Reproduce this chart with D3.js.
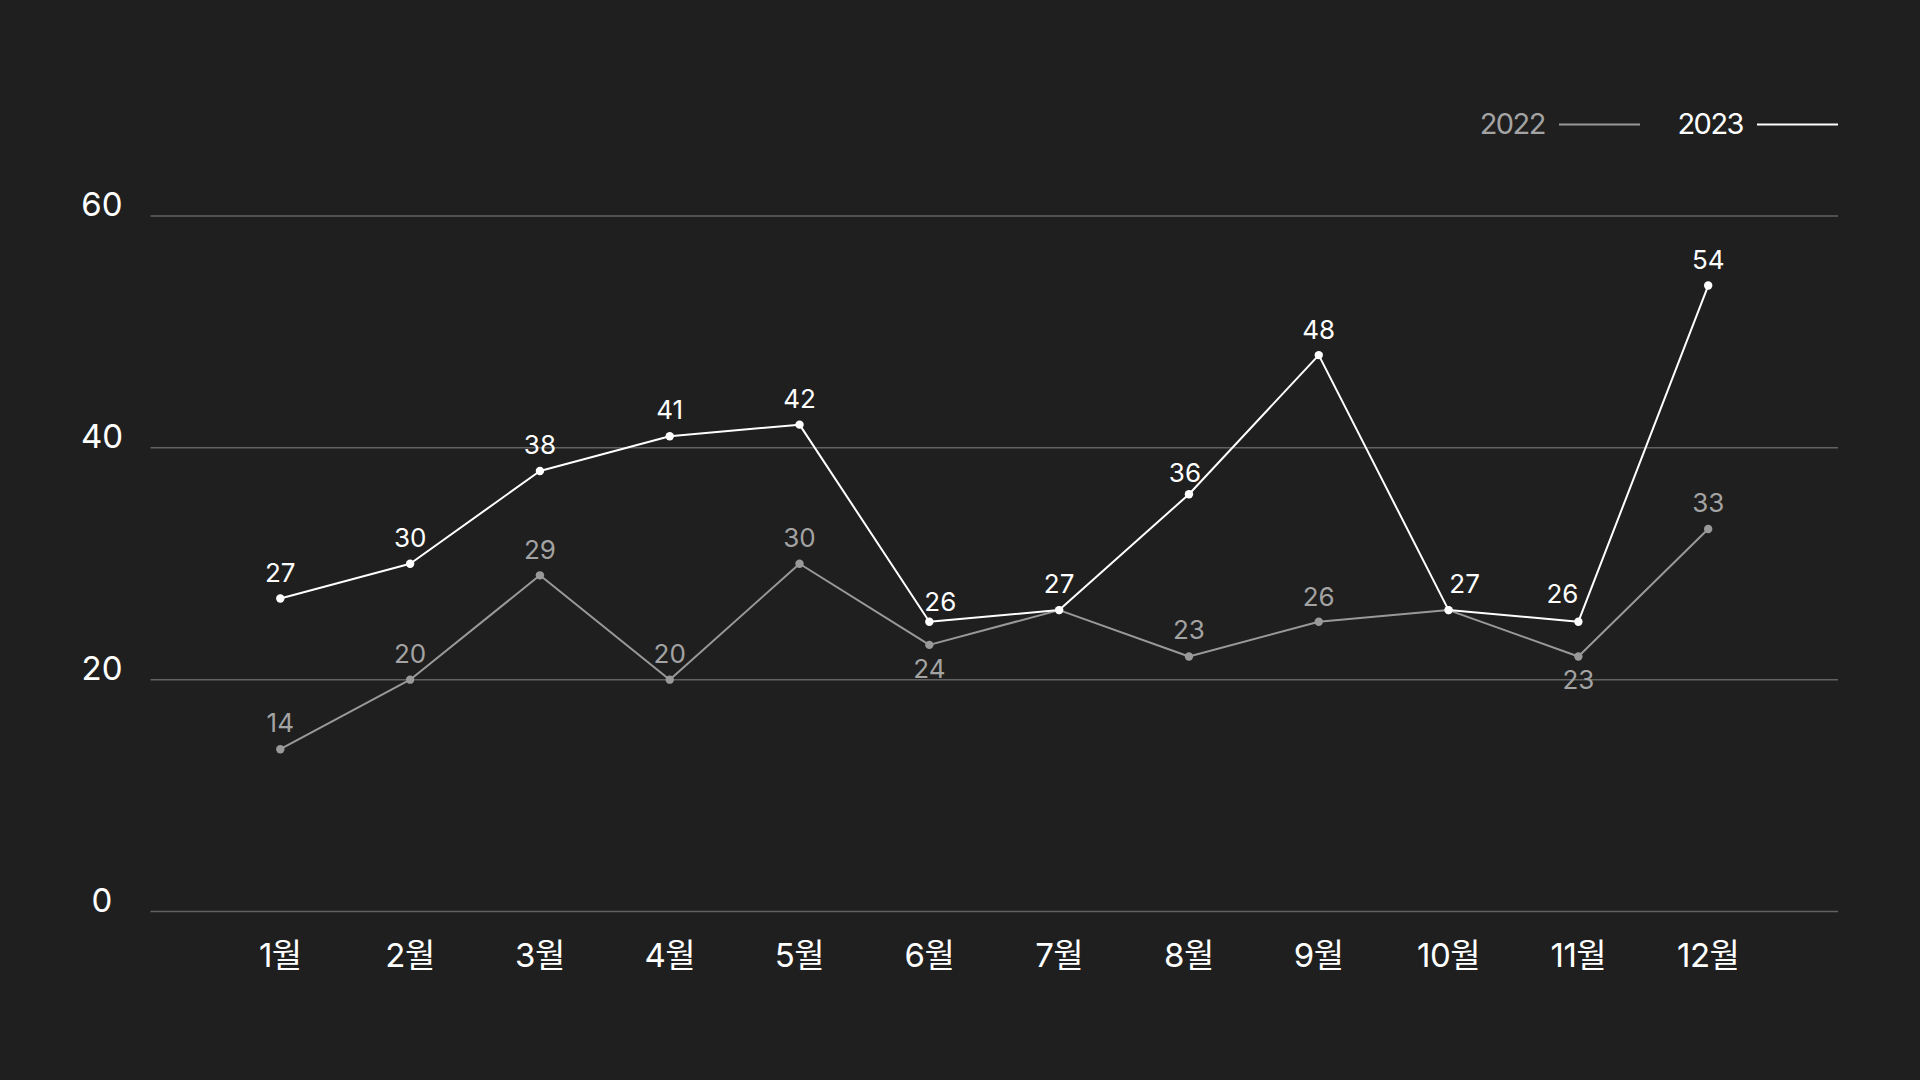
<!DOCTYPE html>
<html>
<head>
<meta charset="utf-8">
<script src="https://cdn.jsdelivr.net/npm/d3@7"></script>
<style>
  html, body { margin: 0; padding: 0; background: #1f1f1f; }
  svg { display: block; }
  text { font-family: Inter, "Noto Sans CJK KR", "Noto Sans", sans-serif; }
</style>
</head>
<body>
<svg id="chart" width="1920" height="1080"></svg>
<script>
// ---- data ----
const months = ["1월","2월","3월","4월","5월","6월","7월","8월","9월","10월","11월","12월"];
const yTicks = [0, 20, 40, 60];
const seriesNames = ["2022", "2023"];
const values2022 = [14, 20, 29, 20, 30, 23, 26, 22, 25, 26, 22, 33];
const values2023 = [27, 30, 38, 41, 42, 25, 26, 36, 48, 26, 25, 54];
const labels2022 = ["14","20","29","20","30","24",null,"23","26",null,"23","33"];
const labels2023 = ["27","30","38","41","42","26","27","36","48","27","26","54"];

// ---- label placement tweaks (styling, not data) ----
const nudgeX2023 = [0,0,0,0,0,11,0,-4,0,16,-16,0];
const nudgeY2023 = [-17,-17,-17,-17,-17,-11,-17,-12,-16,-17,-19,-17];
const nudgeY2022 = [-17,-17,-16,-17,-17,33,-17,-17,-16,-17,33,-17];

const W = 1920, H = 1080;
const svg = d3.select("#chart");
svg.append("rect").attr("width", W).attr("height", H).attr("fill", "#1f1f1f");

const x = d3.scalePoint().domain(months).range([150.5, 1838]).padding(1);
const y = d3.scaleLinear().domain([0, 60]).range([911.5, 216]);

// grid
const grid = svg.append("g");
grid.selectAll("line").data(yTicks).join("line")
  .attr("x1", 150.5).attr("x2", 1838)
  .attr("y1", d => y(d)).attr("y2", d => y(d))
  .attr("stroke", "#626262").attr("stroke-width", 1.5);

// y-axis labels
svg.append("g").selectAll("text").data(yTicks).join("text")
  .attr("x", 102).attr("y", d => y(d))
  .attr("text-anchor", "middle")
  .attr("fill", "#ffffff").attr("font-size", 33)
  .text(d => d);

// x-axis labels
svg.append("g").selectAll("text").data(months).join("text")
  .attr("x", d => x(d)).attr("y", 967)
  .attr("text-anchor", "middle")
  .attr("fill", "#ffffff").attr("font-size", 33)
  .attr("letter-spacing", -0.5)
  .text(d => d);

const line = d3.line().x((d, i) => x(months[i])).y(d => y(d));

function drawSeries(vals, labels, color, labelColor, nx, ny) {
  const g = svg.append("g");
  g.append("path").datum(vals)
    .attr("d", line).attr("fill", "none")
    .attr("stroke", color).attr("stroke-width", 2)
    .attr("stroke-linejoin", "round");
  g.selectAll("circle").data(vals).join("circle")
    .attr("cx", (d, i) => x(months[i])).attr("cy", d => y(d))
    .attr("r", 4.2).attr("fill", color);
  g.selectAll("text").data(vals).join("text")
    .attr("x", (d, i) => x(months[i]) + (nx ? nx[i] : 0))
    .attr("y", (d, i) => y(d) + ny[i])
    .attr("text-anchor", "middle")
    .attr("fill", labelColor).attr("font-size", 26)
    .text((d, i) => labels[i] == null ? "" : labels[i]);
}

drawSeries(values2022, labels2022, "#999999", "#a3a3a3", null, nudgeY2022);
drawSeries(values2023, labels2023, "#ffffff", "#ffffff", nudgeX2023, nudgeY2023);

// legend
const legend = svg.append("g");
const legendItems = [
  { name: seriesNames[0], textEnd: 1545, lineX1: 1559, lineX2: 1640, color: "#999999", tcolor: "#a3a3a3" },
  { name: seriesNames[1], textEnd: 1743, lineX1: 1757, lineX2: 1838, color: "#ffffff", tcolor: "#ffffff" }
];
legendItems.forEach(it => {
  legend.append("text").attr("x", it.textEnd).attr("y", 134)
    .attr("text-anchor", "end").attr("fill", it.tcolor).attr("font-size", 29)
    .attr("letter-spacing", -1.5)
    .text(it.name);
  legend.append("line").attr("x1", it.lineX1).attr("x2", it.lineX2)
    .attr("y1", 124.5).attr("y2", 124.5)
    .attr("stroke", it.color).attr("stroke-width", 2);
});
</script>
</body>
</html>
